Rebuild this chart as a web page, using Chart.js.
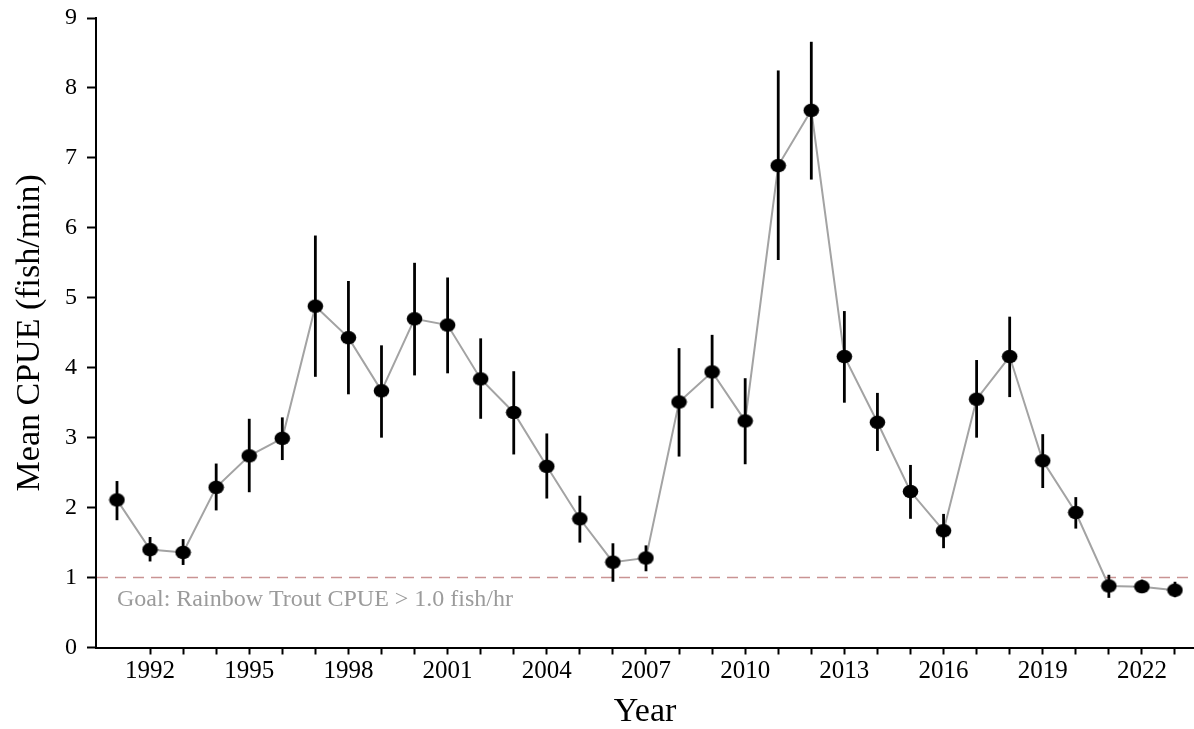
<!DOCTYPE html>
<html>
<head>
<meta charset="utf-8">
<script src="https://cdn.jsdelivr.net/npm/chart.js@4.4.1/dist/chart.umd.min.js"></script>
<style>
  html, body { margin: 0; padding: 0; background: #fff; }
  #wrap { width: 1194px; height: 729px; }
</style>
</head>
<body>
<div id="wrap"><canvas id="chart" width="1194" height="729"></canvas></div>
<script>
// Rainbow trout electrofishing catch rates by survey year
const YEARS = [1991, 1992, 1993, 1994, 1995, 1996, 1997, 1998, 1999, 2000, 2001,
               2002, 2003, 2004, 2005, 2006, 2007, 2008, 2009, 2010, 2011, 2012,
               2013, 2014, 2015, 2016, 2017, 2018, 2019, 2020, 2021, 2022, 2023];
const CPUE = [2.11, 1.40, 1.36, 2.29, 2.74, 2.99, 4.88, 4.43, 3.67, 4.70, 4.61,
              3.84, 3.36, 2.59, 1.84, 1.22, 1.28, 3.51, 3.94, 3.24, 6.89, 7.68,
              4.16, 3.22, 2.23, 1.67, 3.55, 4.16, 2.67, 1.93, 0.88, 0.87, 0.82];
const CI_LOW = [1.82, 1.23, 1.18, 1.96, 2.22, 2.68, 3.87, 3.62, 3.00, 3.89, 3.92,
                3.27, 2.76, 2.13, 1.50, 0.94, 1.09, 2.73, 3.42, 2.62, 5.54, 6.69,
                3.50, 2.81, 1.84, 1.42, 3.00, 3.58, 2.28, 1.70, 0.71, 0.78, 0.72];
const CI_HIGH = [2.38, 1.58, 1.55, 2.63, 3.27, 3.29, 5.89, 5.24, 4.32, 5.50, 5.29,
                 4.42, 3.95, 3.06, 2.17, 1.49, 1.46, 4.28, 4.47, 3.85, 8.25, 8.66,
                 4.81, 3.64, 2.61, 1.91, 4.11, 4.73, 3.05, 2.15, 1.04, 0.97, 0.94];

// Axis ticks
const X_TICKS = [1992, 1993, 1994, 1995, 1996, 1997, 1998, 1999, 2000, 2001, 2002,
                 2003, 2004, 2005, 2006, 2007, 2008, 2009, 2010, 2011, 2012, 2013,
                 2014, 2015, 2016, 2017, 2018, 2019, 2020, 2021, 2022, 2023];
const X_LABELS = [1992, 1995, 1998, 2001, 2004, 2007, 2010, 2013, 2016, 2019, 2022];
const Y_TICKS = [0, 1, 2, 3, 4, 5, 6, 7, 8, 9];

// Management target
const GOAL = 1.0;
const GOAL_TEXT = 'Goal: Rainbow Trout CPUE > 1.0 fish/hr';
const GOAL_TEXT_AT = { year: 1991, value: 0.60 };

const SERIF = '"Liberation Serif", "Times New Roman", Times, serif';

// Slightly flattened black dot used as the point marker
function makeDot() {
  const c = document.createElement('canvas');
  c.width = 17; c.height = 15;
  const g = c.getContext('2d');
  g.fillStyle = '#000';
  g.beginPath();
  g.ellipse(8.5, 7.5, 7.8, 6.8, 0, 0, Math.PI * 2);
  g.fill();
  return c;
}

const goalLine = {
  id: 'goalLine',
  beforeDatasetsDraw(chart) {
    const { ctx, chartArea: a, scales: { x, y } } = chart;
    const gy = y.getPixelForValue(GOAL);
    ctx.save();
    ctx.strokeStyle = '#c99393';
    ctx.lineWidth = 1.5;
    ctx.setLineDash([11, 7]);
    ctx.beginPath();
    ctx.moveTo(a.left + 1, gy);
    ctx.lineTo(a.right, gy);
    ctx.stroke();
    ctx.setLineDash([]);
    ctx.fillStyle = '#9b9b9b';
    ctx.font = '24px ' + SERIF;
    ctx.textBaseline = 'alphabetic';
    ctx.textAlign = 'left';
    ctx.fillText(GOAL_TEXT, x.getPixelForValue(GOAL_TEXT_AT.year), y.getPixelForValue(GOAL_TEXT_AT.value));
    ctx.restore();
  }
};

const errorBars = {
  id: 'errorBars',
  afterDatasetsDraw(chart) {
    const { ctx, scales: { x, y } } = chart;
    ctx.save();
    ctx.strokeStyle = '#000';
    ctx.lineWidth = 2.8;
    ctx.lineCap = 'butt';
    YEARS.forEach((yr, i) => {
      const px = x.getPixelForValue(yr);
      ctx.beginPath();
      ctx.moveTo(px, y.getPixelForValue(CI_LOW[i]));
      ctx.lineTo(px, y.getPixelForValue(CI_HIGH[i]));
      ctx.stroke();
    });
    ctx.restore();
  }
};

const dot = makeDot();

new Chart(document.getElementById('chart'), {
  type: 'line',
  data: {
    datasets: [{
      data: YEARS.map((yr, i) => ({ x: yr, y: CPUE[i] })),
      borderColor: '#a3a3a3',
      borderWidth: 2,
      tension: 0,
      pointStyle: dot,
      pointRadius: 7,
      pointBackgroundColor: '#000',
      pointBorderColor: '#000',
      clip: false
    }]
  },
  options: {
    responsive: false,
    animation: false,
    devicePixelRatio: 1,
    layout: { autoPadding: false, padding: { top: 18, right: 0, bottom: 0, left: 0 } },
    plugins: { legend: { display: false }, tooltip: { enabled: false } },
    scales: {
      x: {
        type: 'linear',
        min: 1990.365,
        max: 2023.575,
        afterBuildTicks(s) { s.ticks = X_TICKS.map(v => ({ value: v })); },
        afterFit(s) {
          s.height = 81.5;
          s.paddingLeft = 0; s.paddingRight = 0; s.paddingTop = 0; s.paddingBottom = 0;
        },
        ticks: {
          autoSkip: false,
          maxRotation: 0,
          color: '#000',
          padding: 2,
          font: { family: SERIF, size: 25 },
          callback: v => (X_LABELS.includes(v) ? String(v) : '')
        },
        grid: { display: true, drawOnChartArea: false, drawTicks: true, tickLength: 7, tickWidth: 2, tickColor: '#000' },
        border: { display: true, color: '#000', width: 2 },
        title: { display: true, text: 'Year', color: '#000', font: { family: SERIF, size: 34 }, padding: { top: 0, bottom: -3 } }
      },
      y: {
        min: 0,
        max: 9,
        afterBuildTicks(s) { s.ticks = Y_TICKS.map(v => ({ value: v })); },
        afterFit(s) {
          s.width = 96;
          s.paddingLeft = 0; s.paddingRight = 0; s.paddingTop = 0; s.paddingBottom = 0;
        },
        ticks: {
          color: '#000',
          padding: 10,
          font: { family: SERIF, size: 24 }
        },
        grid: { display: true, drawOnChartArea: false, drawTicks: true, tickLength: 9, tickWidth: 2, tickColor: '#000' },
        border: { display: true, color: '#000', width: 2 },
        title: { display: true, text: 'Mean CPUE (fish/min)', color: '#000', font: { family: SERIF, size: 34 }, padding: { top: 10, bottom: 0 } }
      }
    }
  },
  plugins: [goalLine, errorBars]
});
</script>
</body>
</html>
